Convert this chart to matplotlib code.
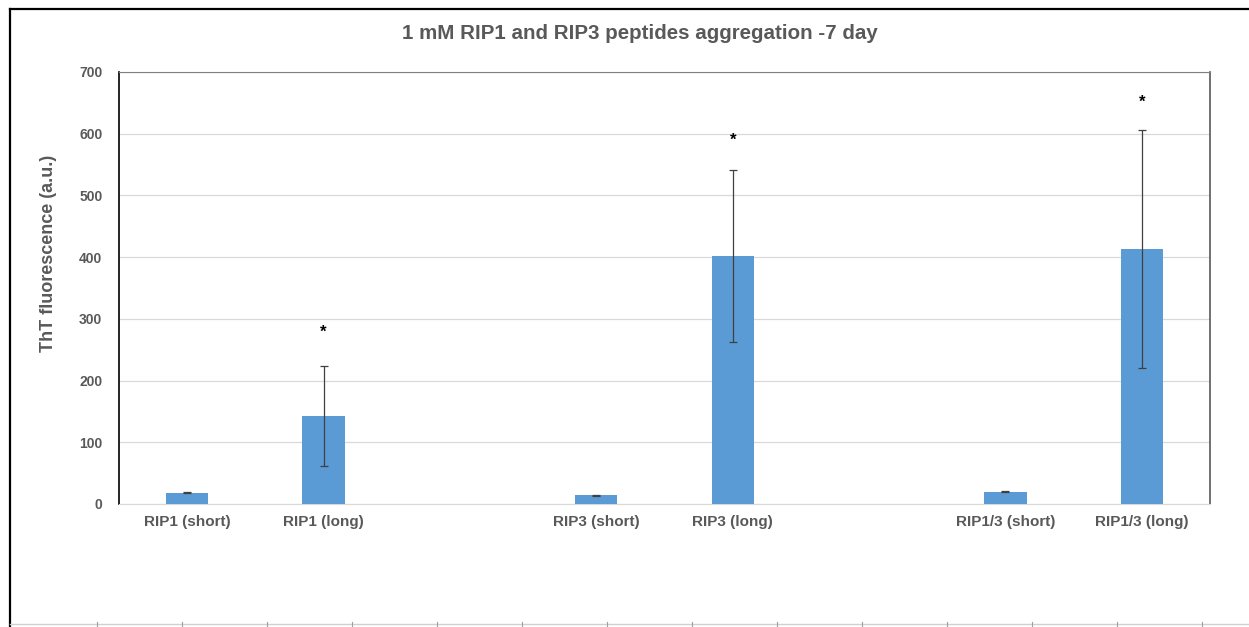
import matplotlib
matplotlib.use("Agg")
import matplotlib.pyplot as plt
from matplotlib.lines import Line2D

plt.rcParams['font.family'] = ['Liberation Sans', 'DejaVu Sans']

# ThT readout, 7 day aggregation
labels = ["RIP1 (short)", "RIP1 (long)", "RIP3 (short)", "RIP3 (long)",
          "RIP1/3 (short)", "RIP1/3 (long)"]
slots = [0, 1, 3, 4, 6, 7]
means = [18, 143, 14, 402, 20, 413]
errs = [1, 81, 1, 139, 1, 193]
stars = ["", "*", "", "*", "", "*"]
star_y = [0, 278, 0, 590, 0, 651]

blue = "#5B9BD5"
grey_txt = "#595959"

fig = plt.figure(figsize=(12.49, 6.27), dpi=100)
ax = fig.add_axes([0.0953, 0.1962, 0.8735, 0.6890])

ax.bar(slots, means, width=0.31, color=blue, zorder=3)
ax.errorbar(slots, means, yerr=errs, fmt="none", ecolor="#404040",
            elinewidth=0.9, capsize=3, capthick=0.9, zorder=4)
for s, t, y in zip(slots, stars, star_y):
    if t:
        ax.text(s, y, t, ha="center", va="center", fontsize=12,
                fontweight="bold", color="black", zorder=5)

ax.set_xlim(-0.5, 7.5)
ax.set_ylim(0, 700)
ax.set_yticks(range(0, 701, 100))
ax.set_xticks(slots)
ax.set_xticklabels(labels)
ax.tick_params(length=0, labelcolor=grey_txt)
ax.tick_params(axis="x", labelsize=11, pad=8)
ax.tick_params(axis="y", labelsize=10, pad=12)
for lab in ax.get_xticklabels() + ax.get_yticklabels():
    lab.set_fontweight("bold")
ax.grid(axis="y", color="#D9D9D9", linewidth=0.9, zorder=0)

ax.spines["left"].set_color("black")
ax.spines["left"].set_linewidth(1.2)
ax.spines["bottom"].set_color("#D9D9D9")
ax.spines["top"].set_color("#808080")
ax.spines["right"].set_color("#595959")
ax.spines["right"].set_linewidth(1.2)

ax.set_ylabel("ThT fluorescence (a.u.)", fontsize=13, fontweight="bold",
              color=grey_txt)
ax.yaxis.set_label_coords(-0.057, 0.579)
fig.text(0.512, 0.946, "1 mM RIP1 and RIP3 peptides aggregation -7 day",
         ha="center", va="center", fontsize=14.8, fontweight="bold",
         color=grey_txt)

# outer frame of the chart sheet
fig.add_artist(Line2D([0.008, 1.0], [0.986, 0.986], color="black", lw=1.6))
fig.add_artist(Line2D([0.008, 0.008], [0.0, 0.986], color="black", lw=1.6))
fig.add_artist(Line2D([0.008, 1.0], [0.004, 0.004], color="#D0D0D0", lw=1.0))
for k in range(1, 15):
    x = (12 + 85 * k) / 1249
    fig.add_artist(Line2D([x, x], [0.0, 0.008], color="#A0A0A0", lw=0.8))

fig.savefig("out.png", dpi=100)
